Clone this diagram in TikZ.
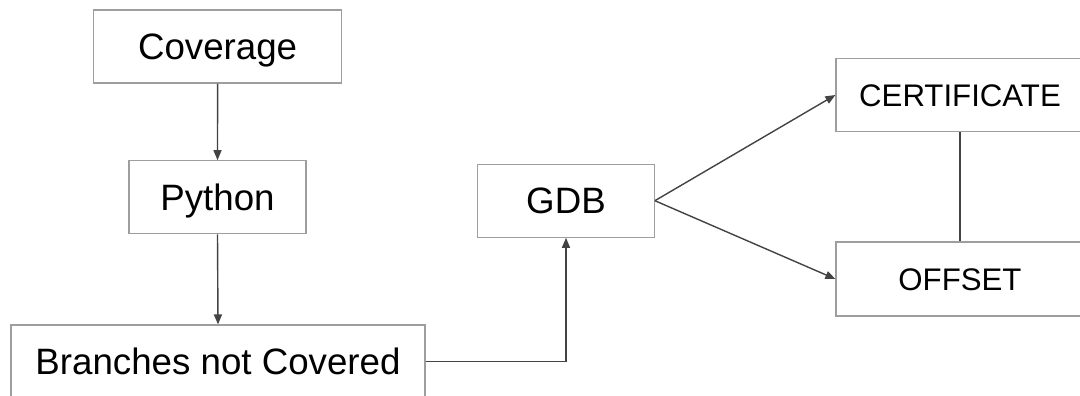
\documentclass[tikz,border=0pt]{standalone}
\usepackage{fontspec}
\setmainfont{Liberation Sans}
\usetikzlibrary{arrows.meta}
\begin{document}
\begin{tikzpicture}[x=1pt,y=-1pt,
  box/.style={draw=boxgray, line width=1.2pt, fill=white, inner sep=0pt, anchor=center,
    font=\fontsize{36.7}{40}\selectfont, text height=26.3pt, text depth=0pt},
  smallbox/.style={box, font=\fontsize{31.2}{36}\selectfont, text height=22.3pt},
  conn/.style={draw=linegray, line width=1.4pt},
  arr/.style={conn, -{Triangle[length=10pt,width=8pt]}}]
\definecolor{boxgray}{HTML}{9E9E9E}
\definecolor{linegray}{HTML}{434343}
\path[use as bounding box] (0,0) rectangle (1080,396);
\clip (0,0) rectangle (1080,396);
\node[box, minimum width=248pt, minimum height=73pt] (cov) at (217.6,46.5) {Coverage};
\node[box, minimum width=177pt, minimum height=73pt] (py) at (217.5,197.3) {Python};
\node[box, minimum width=414pt, minimum height=73pt] (br) at (218,361.5) {Branches not Covered};
\node[box, minimum width=176.6pt, minimum height=73pt] (gdb) at (566,200.7) {GDB};
\node[smallbox, minimum width=248pt, minimum height=73.5pt] (cert) at (960,95) {CERTIFICATE};
\node[smallbox, minimum width=248pt, minimum height=74pt] (off) at (960,279) {OFFSET};
\draw[arr] (cov.south) -- (py.north);
\draw[arr] (py.south) -- (br.north);
\draw[arr] (br.east |- 0,361.7) -| (gdb.south);
\draw[arr] (gdb.east) -- (cert.west);
\draw[arr] (gdb.east) -- (off.west);
\draw[conn] (cert.south) -- (off.north);
\end{tikzpicture}
\end{document}
